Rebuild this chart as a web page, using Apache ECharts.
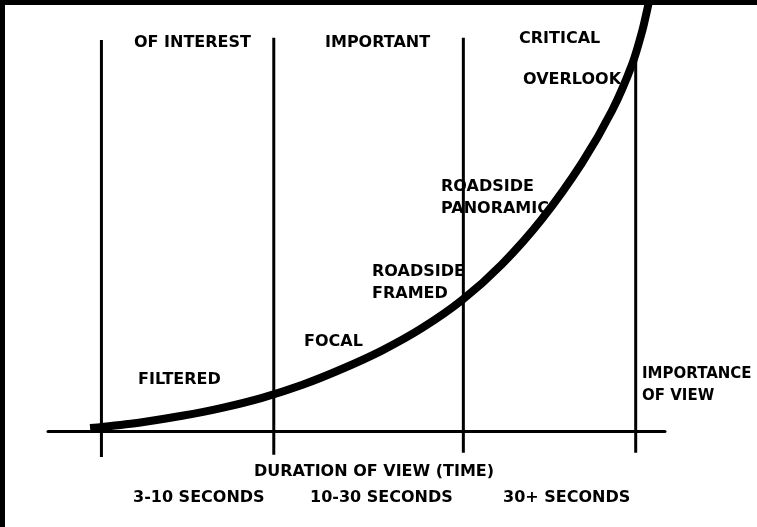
<!DOCTYPE html>
<html>
<head>
<meta charset="utf-8">
<script src="https://cdn.jsdelivr.net/npm/echarts@6/dist/echarts.min.js"></script>
<style>
html, body { margin: 0; padding: 0; background: #fff; }
#main { width: 757px; height: 527px; }
</style>
</head>
<body>
<div id="main"></div>
<script>
// curve: importance of view against duration
var curveX = [-0.66, 0.035, 2.36, 4.68, 7.0, 9.32, 11.63, 13.95, 16.27, 18.59, 20.92, 23.24, 25.56, 27.88, 29.63, 30.79, 31.37, 31.71, 31.94];
var curveY = [0.8, 1.03, 2.16, 3.66, 5.53, 7.88, 10.88, 14.63, 18.95, 24.2, 30.77, 39.21, 49.81, 62.95, 75.26, 86.05, 93.78, 99.7, 104.2];

// vertical division lines
var dividerX = [0, 10, 21, 31];
var dividerTop = [91.8, 92.3, 92.3, 88.2];
var dividerBottom = [-6, -5.5, -5, -5];

var zoneLabels = ['OF INTEREST', 'IMPORTANT', 'CRITICAL'];
var durationLabels = ['3-10 SECONDS', '10-30 SECONDS', '30+ SECONDS'];
var axisTitle = 'DURATION OF VIEW (TIME)';
var yTitle = 'IMPORTANCE\nOF VIEW';
var viewTypes = ['FILTERED', 'FOCAL', 'ROADSIDE\nFRAMED', 'ROADSIDE\nPANORAMIC', 'OVERLOOK'];

var FONT = '"DejaVu Sans", sans-serif';

var series = [];
dividerX.forEach(function(x, i) {
	series.push({
		type: 'line',
		data: [[x, dividerBottom[i]], [x, dividerTop[i]]],
		symbol: 'none',
		clip: false,
		silent: true,
		lineStyle: { color: '#000', width: 3 }
	});
});
series.push({
	type: 'line',
	data: curveX.map(function(x, i) { return [x, curveY[i]]; }),
	symbol: 'none',
	smooth: 0.25,
	clip: false,
	lineStyle: { color: '#000', width: 8, cap: 'butt' },
	z: 5
});

function txt(s, left, top, size) {
	return {
		type: 'text',
		left: left,
		top: top,
		style: {
			text: s,
			font: 'bold ' + (size || 16) + 'px ' + FONT,
			fill: '#000',
			lineHeight: 22
		},
		z: 50
	};
}

var graphics = [
	{ type: 'rect', left: 0, top: 0, shape: { width: 757, height: 5 }, style: { fill: '#000' }, z: 100 },
	{ type: 'rect', left: 0, top: 0, shape: { width: 5, height: 527 }, style: { fill: '#000' }, z: 100 },
	txt(zoneLabels[0], 134, 32),
	txt(zoneLabels[1], 325, 32),
	txt(zoneLabels[2], 519, 28),
	txt(viewTypes[4], 523, 69),
	txt(viewTypes[3], 441, 176),
	txt(viewTypes[2], 372, 261),
	txt(viewTypes[1], 304, 331),
	txt(viewTypes[0], 138, 369),
	txt(yTitle, 642, 363, 15),
	txt(axisTitle, 254, 461),
	txt(durationLabels[0], 133, 487),
	txt(durationLabels[1], 310, 487),
	txt(durationLabels[2], 503, 487)
];

var chart = echarts.init(document.getElementById('main'));
chart.setOption({
	backgroundColor: '#fff',
	animation: false,
	grid: {
		left: 48,
		right: 92,
		top: 5,
		bottom: 70
	},
	xAxis: {
		type: 'value',
		min: -3.1,
		max: 32.7,
		axisLine: { onZero: true, lineStyle: { color: '#000', width: 3 } },
		axisTick: { show: false },
		axisLabel: { show: false },
		splitLine: { show: false }
	},
	yAxis: {
		type: 'value',
		min: -6,
		max: 100,
		axisLine: { show: false },
		axisTick: { show: false },
		axisLabel: { show: false },
		splitLine: { show: false }
	},
	graphic: graphics,
	series: series
});
</script>
</body>
</html>
